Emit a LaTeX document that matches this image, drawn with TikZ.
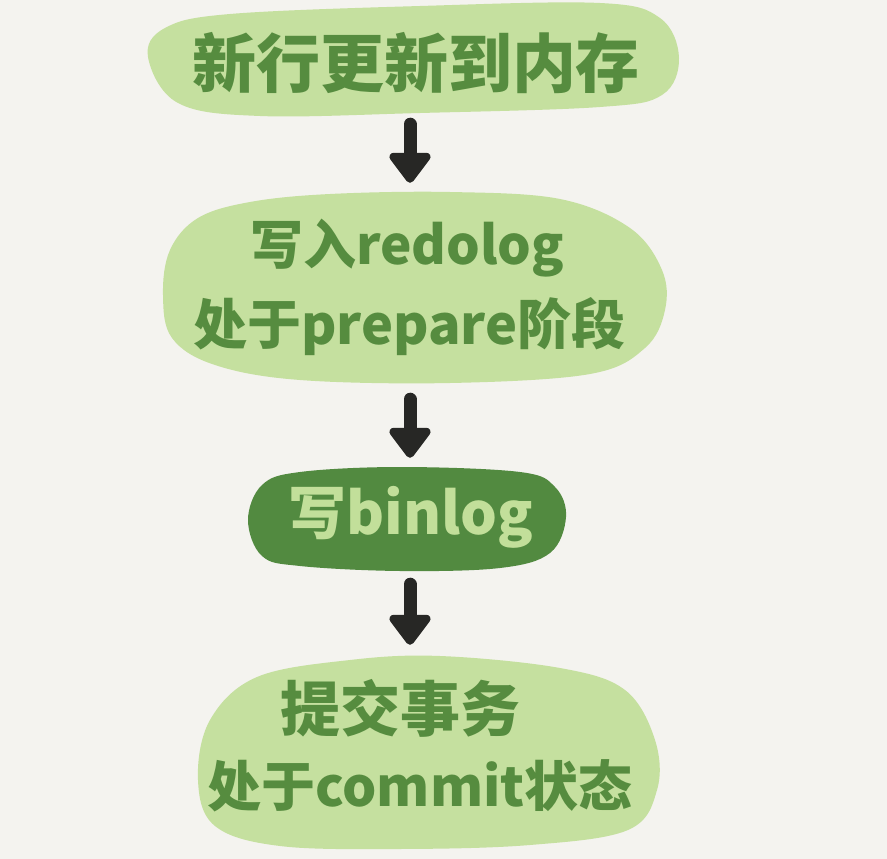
\documentclass[tikz,border=0pt]{standalone}
\usepackage{fontspec}
\newfontfamily\cjk{Noto Sans CJK SC}
\usetikzlibrary{arrows.meta}
\definecolor{bgc}{HTML}{F4F3EF}
\definecolor{lightg}{HTML}{C5E09F}
\definecolor{darkg}{HTML}{528A40}
\definecolor{textg}{HTML}{568C3F}
\definecolor{textl}{HTML}{C2DF9A}
\definecolor{arrc}{HTML}{272725}
\tikzset{
  blobfill/.style={fill=lightg, draw=none},
  darkblob/.style={fill=darkg, draw=none},
  holder/.style={draw=none, inner sep=0pt, minimum width=300pt},
  lbl/.style={inner sep=0pt, text=textg, font=\cjk\bfseries},
  lbldark/.style={inner sep=0pt, text=textl, font=\cjk\bfseries},
  flow/.style={draw=arrc, line width=13pt, line cap=round,
    -{Triangle[width=47pt,length=33pt,round]}}
}
\begin{document}
\begin{tikzpicture}[x=1pt,y=-1pt]
\useasboundingbox[fill=bgc] (0,0) rectangle (887,859);
% blob shapes
\fill[blobfill] plot[smooth cycle, tension=0.6] coordinates {(148,57) (165,28) (230,14) (420,6) (600,3) (660,18) (679,58) (662,95) (600,107) (420,113) (260,116) (178,103)};
\fill[blobfill] plot[smooth cycle, tension=0.6] coordinates {(163,295) (170,250) (198,218) (250,202) (330,194) (450,192) (560,199) (630,228) (662,270) (665,310) (645,348) (590,374) (450,383) (300,380) (215,365) (172,338)};
\fill[darkblob] plot[smooth cycle, tension=0.6] coordinates {(248,520) (262,485) (300,472) (400,467) (520,472) (555,487) (566,517) (550,553) (500,568) (400,571) (300,566) (262,556)};
\fill[blobfill] plot[smooth cycle, tension=0.6] coordinates {(198,780) (210,720) (257,677) (350,660) (440,656) (560,668) (625,690) (655,740) (657,790) (628,830) (530,845) (400,849) (280,846) (215,826)};
% holder nodes
\node[holder, minimum height=113pt] (b1) at (410,58.5) {};
\node[holder, minimum height=191pt] (b2) at (410,287.5) {};
\node[holder, minimum height=104pt] (b3) at (410,519) {};
\node[holder, minimum height=194pt] (b4) at (410,752) {};
% texts
\node[lbl, anchor=base, font=\cjk\bfseries\fontsize{64}{70}\selectfont] (t1) at (416,88) {新行更新到内存};
\node[lbl, anchor=base west, font=\cjk\bfseries\fontsize{53}{60}\selectfont] (t2a) at (250,264) {写入redolog};
\node[lbl, anchor=base west, font=\cjk\bfseries\fontsize{54}{60}\selectfont] (t2b) at (193,344) {处于prepare阶段};
\node[lbldark, anchor=base, font=\cjk\bfseries\fontsize{58}{60}\selectfont] (t3) at (411,534) {写binlog};
\node[lbl, anchor=base, font=\cjk\bfseries\fontsize{60}{64}\selectfont] (t4a) at (400,731) {提交事务};
\node[lbl, anchor=base, font=\cjk\bfseries\fontsize{54}{64}\selectfont] (t4b) at (420,806) {处于commit状态};
% arrows
\draw[flow, shorten <=9pt, shorten >=9pt] (b1) -- (b2);
\draw[flow, shorten <=16pt, shorten >=9pt] (b2) -- (b3);
\draw[flow, shorten <=13pt, shorten >=10pt] (b3) -- (b4);
\end{tikzpicture}
\end{document}
